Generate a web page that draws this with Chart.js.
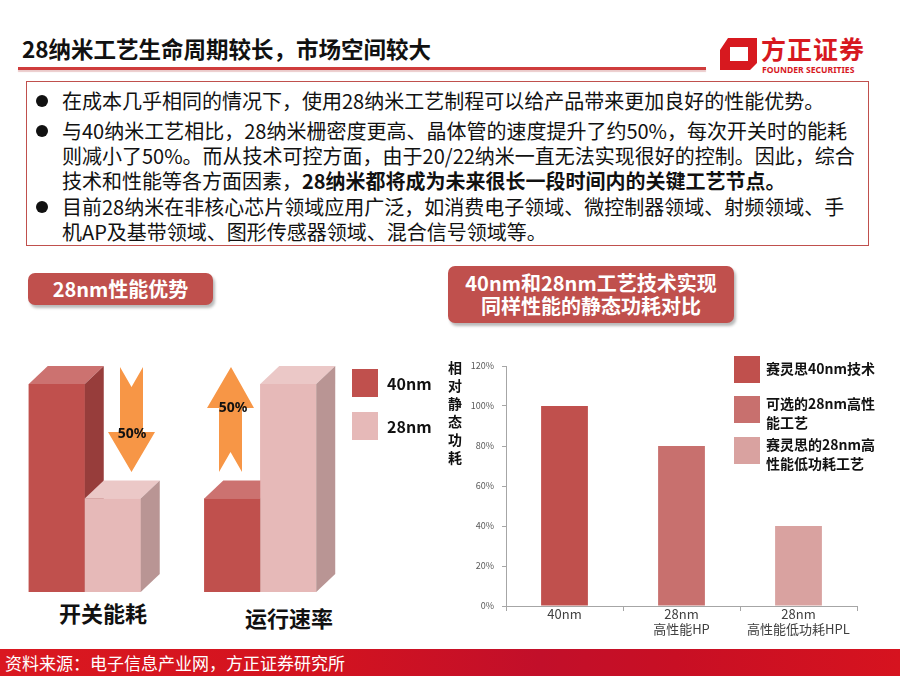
<!DOCTYPE html>
<html>
<head>
<meta charset="utf-8">
<script src="https://cdn.jsdelivr.net/npm/chart.js@4.4.1/dist/chart.umd.min.js"></script>
<style>
  body { margin:0; width:900px; height:676px; position:relative; overflow:hidden; background:#fff;
         font-family:"Noto Sans CJK SC","Noto Sans",sans-serif; color:#111; }
  .abs { position:absolute; }
  #title { left:22px; top:34px; font-size:22.5px; font-weight:bold; white-space:nowrap; line-height:28px; }
  #rule { left:18px; top:67px; width:688px; height:3px; background:#cf3c3c; box-shadow:0 2px 1px rgba(210,140,140,0.45); }
  #box { left:26px; top:81px; width:843px; height:165px; border:1.5px solid #c0504d; box-sizing:border-box; }
  .para { left:62px; font-size:20px; line-height:25px; white-space:nowrap; }
  .dot { width:12px; height:12px; border-radius:50%; background:#111; left:36px; }
  .btn { background:#c0504d; color:#fff; font-weight:bold; border-radius:7px; text-align:center;
         box-shadow:2px 3px 3px rgba(0,0,0,0.28); white-space:nowrap; }
  .lbl { font-weight:bold; white-space:nowrap; }
  .sw { width:26px; height:27px; }
  #footer { left:0; top:649px; width:900px; height:27px;
            background:linear-gradient(90deg,#da1820 0%,#d3131f 35%,#c20f2a 60%,#c80f24 75%,#d6131f 100%); }
  #footer span { position:absolute; left:5px; top:1px; color:#fff; font-size:17px; line-height:25px; white-space:nowrap; }
</style>
</head>
<body>
<div id="title" class="abs">28纳米工艺生命周期较长，市场空间较大</div>
<div id="rule" class="abs"></div>

<svg class="abs" style="left:0;top:0" width="900" height="90">
  <path fill-rule="evenodd" d="M728 38 L757 38 L757 63 L750 70 L720 70 L720 50 Z M730 47 L748 47 L748 61 L730 61 Z" fill="#d7191f"/>
  <text x="761" y="59" font-size="25" font-weight="bold" fill="#d7191f" font-family="Noto Sans CJK SC" letter-spacing="1">方正证券</text>
  <text x="762" y="73" font-size="8.6" font-weight="bold" fill="#d7191f" font-family="Noto Sans, sans-serif">FOUNDER SECURITIES</text>
</svg>

<div id="box" class="abs"></div>
<div class="abs dot" style="top:95px"></div>
<div class="abs dot" style="top:125px"></div>
<div class="abs dot" style="top:201px"></div>
<div class="abs para" style="top:88px">在成本几乎相同的情况下，使用28纳米工艺制程可以给产品带来更加良好的性能优势。</div>
<div class="abs para" style="top:118px">与40纳米工艺相比，28纳米栅密度更高、晶体管的速度提升了约50%，每次开关时的能耗<br>则减小了50%。而从技术可控方面，由于20/22纳米一直无法实现很好的控制。因此，综合<br>技术和性能等各方面因素，<b>28纳米都将成为未来很长一段时间内的关键工艺节点。</b></div>
<div class="abs para" style="top:194px">目前28纳米在非核心芯片领域应用广泛，如消费电子领域、微控制器领域、射频领域、手<br>机AP及基带领域、图形传感器领域、混合信号领域等。</div>

<!-- left panel -->
<div class="abs btn" style="left:28px;top:273px;width:185px;height:32px;font-size:20px;line-height:32px;">28nm性能优势</div>
<canvas id="leftChart" class="abs" style="left:-3px;top:362px;width:351px;height:230px" width="351" height="230"></canvas>
<svg class="abs" style="left:0;top:0" width="440" height="500">
  <polygon points="120,367 131.5,387 143,367 143,432 155,432 131.5,472 108,432 120,432" fill="#f79646"/>
  <text x="132" y="438" font-size="14" font-weight="bold" text-anchor="middle" fill="#111" font-family="Noto Sans, sans-serif">50%</text>
  <polygon points="231,367 254,408 242,408 242,472 230.5,452 219,472 219,408 207,408" fill="#f79646"/>
  <text x="233" y="412" font-size="14" font-weight="bold" text-anchor="middle" fill="#111" font-family="Noto Sans, sans-serif">50%</text>
</svg>
<div id="leftLegend"></div>
<div id="leftCats"></div>

<!-- right panel -->
<div class="abs btn" style="left:448px;top:266px;width:286px;height:57px;font-size:20px;line-height:23px;padding-top:5px;box-sizing:border-box;">40nm和28nm工艺技术实现<br>同样性能的静态功耗对比</div>
<div id="yTitle" class="abs lbl" style="left:448px;top:358px;width:14px;font-size:14px;line-height:18px;white-space:normal;word-break:break-all;"></div>
<canvas id="rightChart" class="abs" style="left:460px;top:350px;width:410px;height:290px" width="410" height="290"></canvas>
<div id="rightLegend"></div>

<div id="footer" class="abs"><span>资料来源：电子信息产业网，方正证券研究所</span></div>

<script>
// left: 28nm vs 40nm (relative)
const leftCategories = ['开关能耗', '运行速率'];
const leftSeries = ['40nm', '28nm'];
const left40nm = [100, 45];
const left28nm = [45, 100];

// right: static power
const rightCategories = [['40nm'], ['28nm', '高性能HP'], ['28nm', '高性能低功耗HPL']];
const rightValues = [100, 80, 40];
const rightSeries = [['赛灵思40nm技术'], ['可选的28nm高性', '能工艺'], ['赛灵思的28nm高', '性能低功耗工艺']];
const yTickValues = [0, 20, 40, 60, 80, 100, 120];
const yTitle = '相对静态功耗';

const leftColors = ['#c0504d', '#e6b9b8'];
const leftTops = ['#cc7270', '#ebc8c7'];
const leftSides = ['#973d3b', '#b99594'];
const rightColors = ['#c0504d', '#c8706e', '#d9a2a0'];

const fam = '"Noto Sans CJK SC", "Noto Sans", sans-serif';

// repaint each bar as a box (front, top, side), 40nm first so 28nm covers it
const bar3d = {
  id: 'bar3d',
  afterDatasetsDraw(chart) {
    const dx = 19, dy = 18;
    const c = chart.ctx;
    chart.data.datasets.forEach((ds, i) => {
      chart.getDatasetMeta(i).data.forEach(bar => {
        const p = bar.getProps(['x', 'y', 'base', 'width'], true);
        const l = p.x - p.width / 2, r = p.x + p.width / 2;
        c.save();
        c.fillStyle = ds.backgroundColor;
        c.fillRect(l, p.y, r - l, p.base - p.y);
        c.fillStyle = ds.topColor;
        c.beginPath();
        c.moveTo(l, p.y); c.lineTo(l + dx, p.y - dy); c.lineTo(r + dx, p.y - dy); c.lineTo(r, p.y);
        c.closePath(); c.fill();
        c.fillStyle = ds.sideColor;
        c.beginPath();
        c.moveTo(r, p.y); c.lineTo(r + dx, p.y - dy); c.lineTo(r + dx, p.base - dy); c.lineTo(r, p.base);
        c.closePath(); c.fill();
        c.restore();
      });
    });
  }
};

new Chart(document.getElementById('leftChart'), {
  type: 'bar',
  data: {
    labels: leftCategories,
    datasets: [
      { label: leftSeries[0], data: left40nm, backgroundColor: leftColors[0], topColor: leftTops[0], sideColor: leftSides[0] },
      { label: leftSeries[1], data: left28nm, backgroundColor: leftColors[1], topColor: leftTops[1], sideColor: leftSides[1] }
    ]
  },
  options: {
    responsive: false,
    animation: false,
    categoryPercentage: 0.638,
    barPercentage: 1,
    layout: { padding: { top: 22, left: 0, right: 0, bottom: 0 } },
    plugins: { legend: { display: false }, tooltip: { enabled: false } },
    scales: {
      x: { display: false },
      y: { display: false, min: 0, max: 100 }
    }
  },
  plugins: [bar3d]
});

// left legend + category labels (html)
const ll = document.getElementById('leftLegend');
leftSeries.forEach((s, i) => {
  ll.insertAdjacentHTML('beforeend',
    `<div class="abs sw" style="left:352px;top:${369 + i * 43}px;height:28px;background:${leftColors[i]}"></div>` +
    `<div class="abs lbl" style="left:387px;top:${372 + i * 43}px;font-size:16px;line-height:22px">${s}</div>`);
});
const lc = document.getElementById('leftCats');
const catX = [103, 289], catY = [598, 603];
leftCategories.forEach((s, i) => {
  lc.insertAdjacentHTML('beforeend',
    `<div class="abs lbl" style="left:${catX[i] - 60}px;width:120px;text-align:center;top:${catY[i]}px;font-size:22px;line-height:28px">${s}</div>`);
});

document.getElementById('yTitle').textContent = yTitle;

new Chart(document.getElementById('rightChart'), {
  type: 'bar',
  data: {
    labels: rightCategories,
    datasets: [{ data: rightValues, backgroundColor: rightColors, categoryPercentage: 0.4, barPercentage: 1 }]
  },
  options: {
    responsive: false,
    animation: false,
    layout: { padding: { left: 0, right: 13, top: 16, bottom: 0 } },
    plugins: { legend: { display: false }, tooltip: { enabled: false } },
    scales: {
      x: {
        grid: { drawOnChartArea: false, tickLength: 5, color: '#a6a6a6' },
        border: { color: '#a6a6a6' },
        ticks: { color: '#404040', font: { size: 13, family: fam, lineHeight: 1.15 }, padding: -4, maxRotation: 0 },
        afterFit(a) { a.height = 34; }
      },
      y: {
        min: 0, max: 120,
        afterBuildTicks(a) { a.ticks = yTickValues.map(v => ({ value: v })); },
        ticks: { color: '#595959', font: { size: 9, family: fam }, padding: 8, callback: v => v + '%' },
        grid: { drawOnChartArea: false, tickLength: 4, color: '#a6a6a6' },
        border: { color: '#a6a6a6' },
        afterFit(a) { a.width = 46; }
      }
    }
  }
});

// right legend (wrapped labels, html)
const rl = document.getElementById('rightLegend');
const swTop = [356, 396, 437];
rightSeries.forEach((lines, i) => {
  rl.insertAdjacentHTML('beforeend',
    `<div class="abs sw" style="left:734px;top:${swTop[i]}px;background:${rightColors[i]}"></div>` +
    `<div class="abs lbl" style="left:766px;top:${swTop[i] + (lines.length > 1 ? -2 : 3)}px;font-size:14px;line-height:19px">${lines.join('<br>')}</div>`);
});
</script>
</body>
</html>
